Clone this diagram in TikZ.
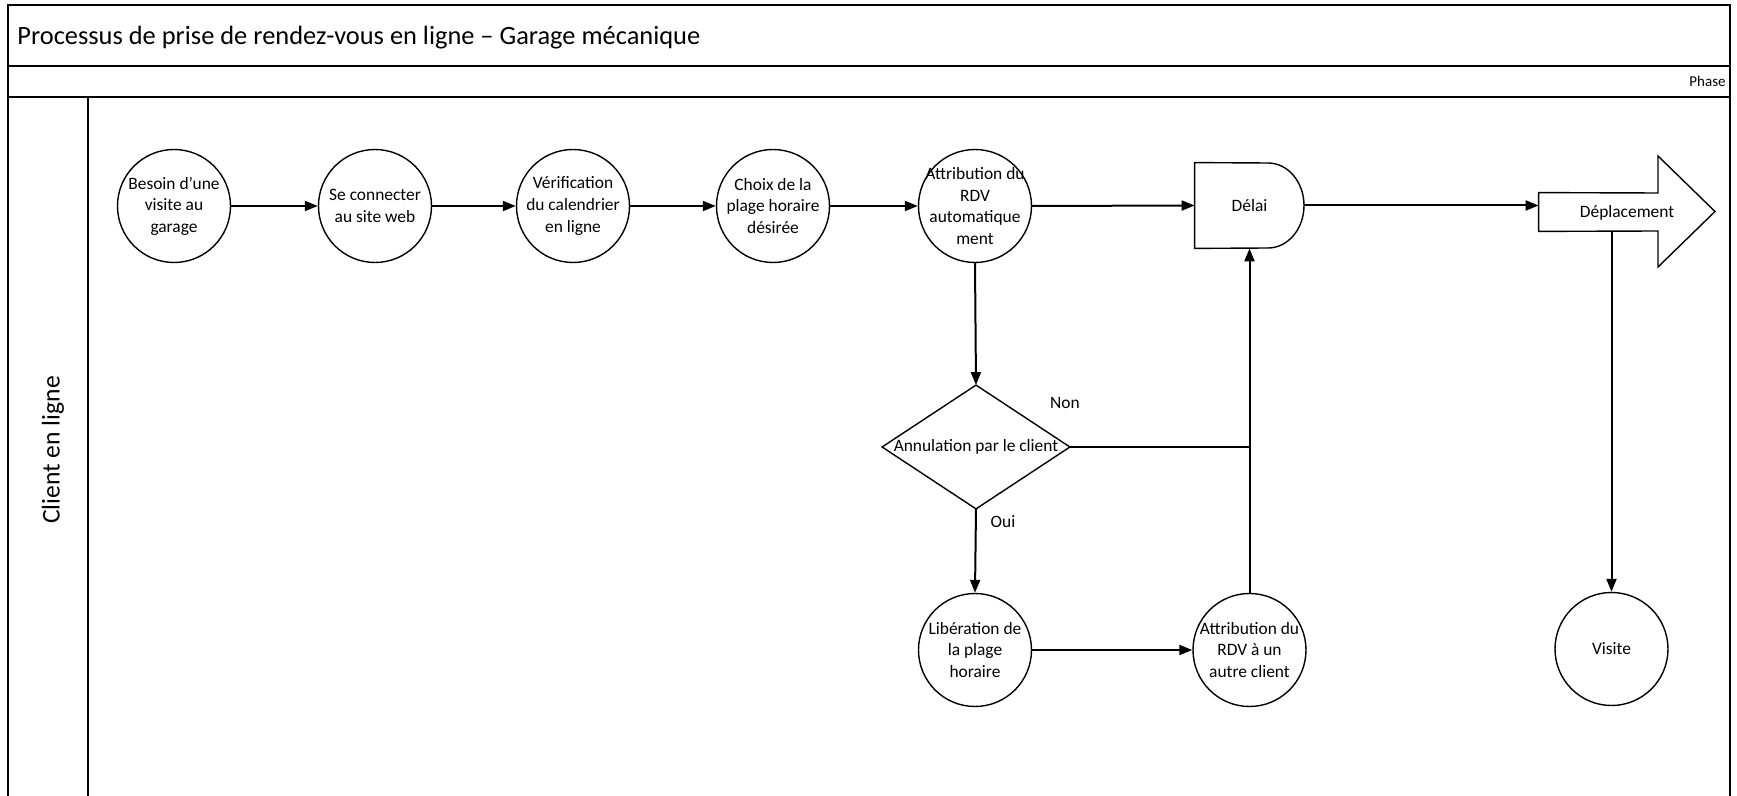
\documentclass[tikz,border=0pt]{standalone}
\usepackage{fontspec}
\setmainfont{Carlito}
\usetikzlibrary{arrows.meta}
\begin{document}
\begin{tikzpicture}[x=0.5pt,y=-0.5pt,
  frame/.style={draw=black,line width=0.6pt},
  shp/.style={draw=black,line width=0.7pt},
  proc/.style={circle,draw=black,line width=0.7pt,minimum size=56.5pt,inner sep=-12pt,align=center,font=\fontsize{8.7}{10.8}\selectfont},
  txt/.style={font=\fontsize{8.7}{10.8}\selectfont,inner sep=0pt,align=center},
  conn/.style={draw=black,line width=1pt},
  arr/.style={conn,-{Triangle[length=6.5pt,width=5pt]}}]
\useasboundingbox (0,0) rectangle (1737,796);
\fill[white] (0,0) rectangle (1737,796);
% frame
\draw[frame] (8,5) rectangle (1730,66);
\draw[frame] (8,66) rectangle (1730,97);
\draw[frame] (8,97) -- (8,796) (88,97) -- (88,796) (1730,97) -- (1730,796);
\node[anchor=base west,inner sep=0pt,font=\fontsize{13.2}{15}\selectfont] (title) at (17,45) {Processus de prise de rendez-vous en ligne – Garage mécanique};
\node[anchor=base east,inner sep=0pt,font=\fontsize{7.5}{8}\selectfont] (phase) at (1726,87) {Phase};
\node[rotate=90,inner sep=0pt,font=\fontsize{12.8}{15}\selectfont] (lane) at (53,450) {Client en ligne};
% nodes
\node[proc] (besoin) at (174,206) {Besoin d’une\\visite au\\garage};
\node[proc] (connect) at (375,206) {Se connecter\\au site web};
\node[proc] (verif) at (573,206) {Vérification\\du calendrier\\en ligne};
\node[proc] (choix) at (773,206) {Choix de la\\plage horaire\\désirée};
\node[proc] (auto) at (975,206) {Attribution du\\RDV\\automatique\\ment};
\node[txt,minimum width=54.5pt,minimum height=42.5pt] (delai) at (1249.5,205.5) {Délai};
\draw[shp] (delai.north west) -- (1268,163) .. controls (1287.9,163) and (1304,182) .. (1304,205.5) .. controls (1304,229) and (1287.9,248) .. (1268,248) -- (delai.south west) -- cycle;
\node[minimum width=59.5pt,minimum height=19pt,inner sep=0pt] (depl) at (1598.5,212) {};
\draw[shp] (depl.north west) -- (1658,193) -- (1658,156) -- (1715,211.5) -- (1658,267) -- (1658,231) -- (depl.south west) -- cycle;
\node[txt] (depltxt) at (1627,213) {Déplacement};
\node[txt,minimum width=93.5pt,minimum height=61.5pt] (diam) at (976,447) {Annulation par le client};
\draw[shp] (diam.north) -- (diam.east) -- (diam.south) -- (diam.west) -- cycle;
\node[proc] (lib) at (975,650) {Libération de\\la plage\\horaire};
\node[proc] (autre) at (1249.5,650) {Attribution du\\RDV à un\\autre client};
\node[proc] (visite) at (1611.5,649) {Visite};
% connectors
\draw[arr] (besoin) -- (connect);
\draw[arr] (connect) -- (verif);
\draw[arr] (verif) -- (choix);
\draw[arr] (choix) -- (auto);
\draw[arr] (auto.east) -- (delai.west);
\draw[arr] (delai.east) -- (delai.east -| depl.west);
\draw[arr] (auto.south) -- (diam.north);
\draw[arr] (diam.south) -- (lib.north);
\draw[conn] (diam.east) -- (diam.east -| autre.north);
\draw[arr] (autre.north) -- (delai.south);
\draw[arr] (lib) -- (autre);
\draw[arr] (depl.south -| visite.north) -- (visite.north);
\node[txt] (non) at (1065,403) {Non};
\node[txt] (oui) at (1003,522) {Oui};
\end{tikzpicture}
\end{document}
